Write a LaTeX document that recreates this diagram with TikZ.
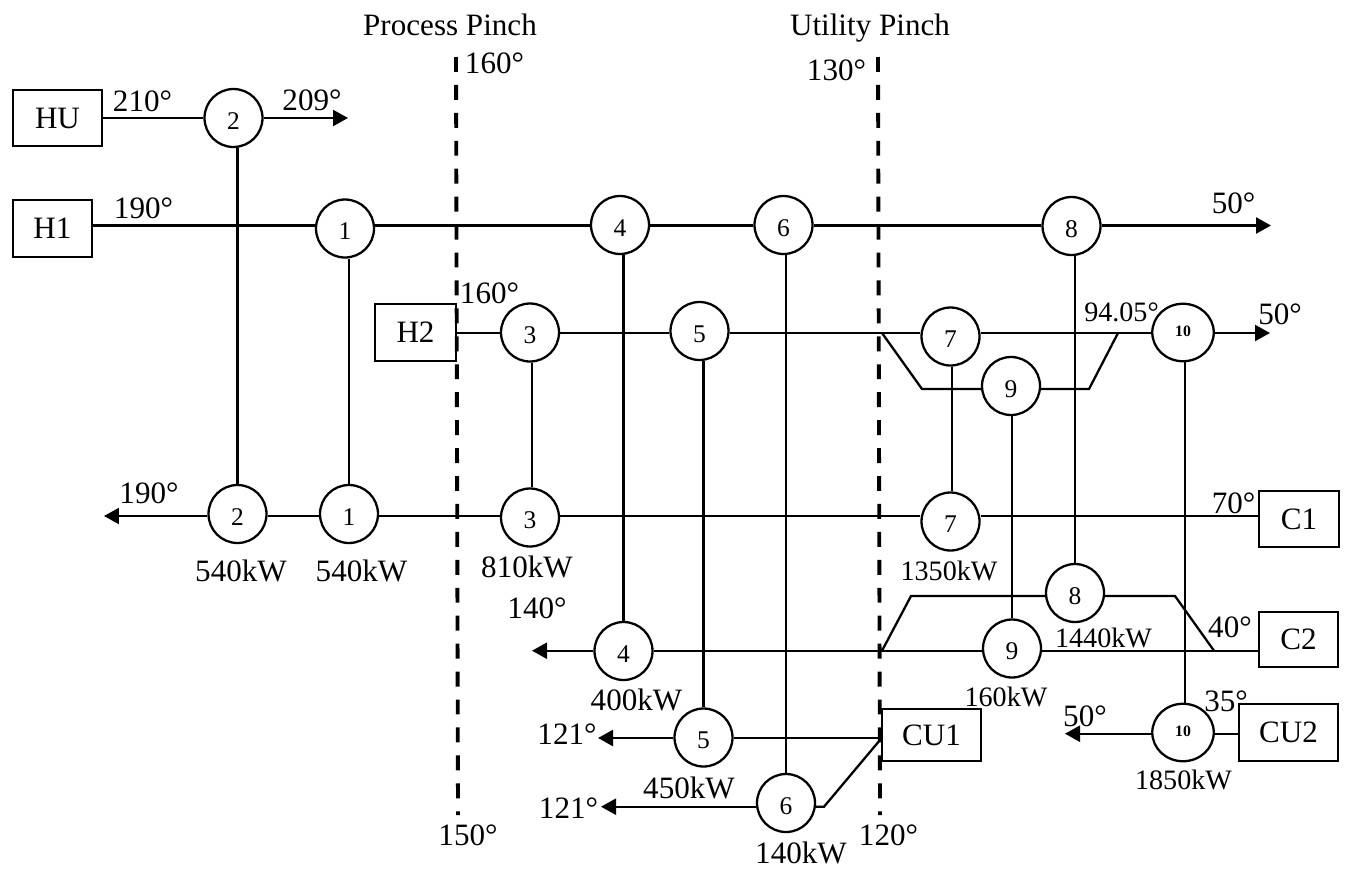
\documentclass[tikz,border=0pt]{standalone}
\usepackage{fontspec}
\setmainfont{Liberation Serif}
\usetikzlibrary{arrows.meta,shapes.geometric}

\begin{document}
\begin{tikzpicture}[
  x=0.02cm, y=-0.02cm, line width=1.3pt,
  hx/.style={draw, circle, minimum size=1.16cm, inner sep=0pt, text height=13pt,
             font=\fontsize{14.5}{16}\selectfont},
  hxs/.style={draw, ellipse, minimum width=1.23cm, minimum height=1.15cm, inner sep=0pt,
              text depth=1.5pt, font=\fontsize{9}{10}\selectfont\bfseries},
  box/.style={draw, inner sep=0pt, font=\fontsize{17.7}{19}\selectfont},
  lab/.style={font=\fontsize{17.7}{19}\selectfont, inner sep=0pt},
  labs/.style={font=\fontsize{16}{18}\selectfont, inner sep=0pt},
  arr/.style={-{Triangle[length=3mm,width=3.2mm]}},
  pinch/.style={line width=2.2pt, dash pattern=on 8.5pt off 7.4pt}
]
\useasboundingbox (0,0) rectangle (1345,869);
% pinches
\coordinate (p1a) at (456,57);
\coordinate (p1b) at (458,815);
\coordinate (p2a) at (878,57);
\coordinate (p2b) at (880,815);
\draw[pinch] (p1a) -- (p1b);
\draw[pinch] (p2a) -- (p2b);
% streams and utilities
\node[box, minimum width=1.78cm, minimum height=1.12cm] (HU) at (57.5,118) {HU};
\node[box, minimum width=1.58cm, minimum height=1.14cm] (H1) at (52.5,228.5) {H1};
\node[box, minimum width=1.62cm, minimum height=1.14cm] (H2) at (415.5,332.5) {H2};
\node[box, minimum width=1.6cm, minimum height=1.12cm] (C1) at (1299,519) {C1};
\node[box, minimum width=1.58cm, minimum height=1.1cm] (C2) at (1298.5,639.5) {C2};
\node[box, minimum width=1.98cm, minimum height=1.04cm] (CU1) at (931.5,735) {CU1};
\node[box, minimum width=1.98cm, minimum height=1.14cm] (CU2) at (1288.5,732.5) {CU2};
% exchangers, upper ends
\node[hx] (a2) at (233.5,118) {2};
\node[hx] (a1) at (345,228.5) {1};
\node[hx] (a4) at (620,225) {4};
\node[hx] (a6) at (783.5,225) {6};
\node[hx] (a8) at (1071.5,226) {8};
\node[hx] (a3) at (530,332.5) {3};
\node[hx] (a5) at (699.5,331) {5};
\node[hx] (a7) at (950.5,336.5) {7};
\node[hxs] (a10) at (1183,332.5) {10};
\node[hx] (a9) at (1011,386) {9};
% exchangers, lower ends
\node[hx] (b2) at (237.5,514) {2};
\node[hx] (b1) at (349,514) {1};
\node[hx] (b3) at (530,517.5) {3};
\node[hx] (b7) at (950.5,521.5) {7};
\node[hx] (b8) at (1075,593) {8};
\node[hx] (b4) at (623.5,651) {4};
\node[hx] (b9) at (1012,648.5) {9};
\node[hxs] (b10) at (1183,732.5) {10};
\node[hx] (b5) at (703.5,737.5) {5};
\node[hx] (b6) at (786,803) {6};
% free ends and bends
\coordinate (e2) at (348,118);
\coordinate (e8) at (1271,225.5);
\coordinate (e10) at (1270,333);
\coordinate (eb2) at (104,516);
\coordinate (eb4) at (532,650.7);
\coordinate (eb5) at (598,738);
\coordinate (eb6) at (601,806.7);
\coordinate (eb10) at (1065,733.7);
\coordinate (s1) at (882,333);
\coordinate (s2) at (922,389);
\coordinate (s3) at (1089,389);
\coordinate (s4) at (1118,333);
\coordinate (t1) at (882,650.7);
\coordinate (t2) at (911,596);
\coordinate (t3) at (1175,596);
\coordinate (t4) at (1214,650.7);
\coordinate (u1) at (880,740);
\coordinate (u2) at (824,806.7);
\coordinate (v3) at (531.7,0);
\coordinate (v7) at (952,0);
\coordinate (v10) at (1185,0);
% stream lines
\draw (HU) -- (a2);
\draw[arr] (a2) -- (e2);
\draw (H1.east |- e8) -- (a1.west |- e8);
\draw (a1.east |- e8) -- (a4.west |- e8);
\draw (a4.east |- e8) -- (a6.west |- e8);
\draw (a6.east |- e8) -- (a8.west |- e8);
\draw[arr] (a8.east |- e8) -- (e8);
\draw (H2.east |- e10) -- (a3.west |- e10);
\draw (a3.east |- e10) -- (a5.west |- e10);
\draw (a5.east |- e10) -- (a7.west |- e10);
\draw (a7.east |- e10) -- (a10.west |- e10);
\draw[arr] (a10.east |- e10) -- (e10);
\draw (s1) -- (s2) -- (a9.west |- s2);
\draw (a9.east |- s3) -- (s3) -- (s4);
\draw (C1.west |- eb2) -- (b7.east |- eb2);
\draw (b7.west |- eb2) -- (b3.east |- eb2);
\draw (b3.west |- eb2) -- (b1.east |- eb2);
\draw (b1.west |- eb2) -- (b2.east |- eb2);
\draw[arr] (b2.west |- eb2) -- (eb2);
\draw (C2.west |- eb4) -- (b9.east |- eb4);
\draw (b9.west |- eb4) -- (b4.east |- eb4);
\draw[arr] (b4.west |- eb4) -- (eb4);
\draw (t1) -- (t2) -- (b8.west |- t2);
\draw (b8.east |- t3) -- (t3) -- (t4);
\draw (CU1.west |- eb5) -- (b5.east |- eb5);
\draw[arr] (b5.west |- eb5) -- (eb5);
\draw (u1) -- (u2) -- (b6.east |- u2);
\draw[arr] (b6.west |- eb6) -- (eb6);
\draw (CU2.west |- eb10) -- (b10.east |- eb10);
\draw[arr] (b10.west |- eb10) -- (eb10);
% matches
\draw (b2 |- a2.south) -- (b2);
\draw (b1 |- a1.south) -- (b1);
\draw (v3 |- a3.south) -- (v3 |- b3.north);
\draw (b4 |- a4.south) -- (b4);
\draw (b5 |- a5.south) -- (b5);
\draw (b6 |- a6.south) -- (b6);
\draw (v7 |- a7.south) -- (v7 |- b7.north);
\draw (b8 |- a8.south) -- (b8);
\draw (b9 |- a9.south) -- (b9);
\draw (v10 |- a10.south) -- (v10 |- b10.north);
% labels
\node[lab] (tp1) at (450,24.5) {Process Pinch};
\node[lab] (tp2) at (870,28) {Utility Pinch};
\node[lab] (l1) at (494.5,63.5) {160°};
\node[lab] (l2) at (836.5,70) {130°};
\node[lab] (l3) at (142.5,101) {210°};
\node[lab] (l4) at (312,100) {209°};
\node[lab] (l5) at (143.5,208) {190°};
\node[lab] (l6) at (1233.5,203.5) {50°};
\node[lab] (l7) at (489.5,293) {160°};
\node[labs] (l8) at (1121.5,312) {94.05°};
\node[lab] (l9) at (1280,314) {50°};
\node[lab] (l10) at (149,493) {190°};
\node[lab] (l11) at (1233.5,503) {70°};
\node[lab] (l12) at (241,571) {540kW};
\node[lab] (l13) at (361.5,571) {540kW};
\node[lab] (l14) at (527,566.5) {810kW};
\node[labs] (l15) at (949,571) {1350kW};
\node[lab] (l16) at (537,608) {140°};
\node[lab] (l17) at (1230,627) {40°};
\node[labs] (l18) at (1103.5,638) {1440kW};
\node[lab] (l19) at (636.5,700) {400kW};
\node[labs] (l20) at (1006,697) {160kW};
\node[lab] (l21) at (1085,716.5) {50°};
\node[lab] (l22) at (1226,701) {35°};
\node[labs] (l23) at (1183.5,780) {1850kW};
\node[lab] (l24) at (567,734) {121°};
\node[lab] (l25) at (568.5,808) {121°};
\node[lab] (l26) at (689,787.5) {450kW};
\node[lab] (l27) at (801,852.5) {140kW};
\node[lab] (l28) at (468,835.5) {150°};
\node[lab] (l29) at (888.5,835) {120°};
\end{tikzpicture}
\end{document}
